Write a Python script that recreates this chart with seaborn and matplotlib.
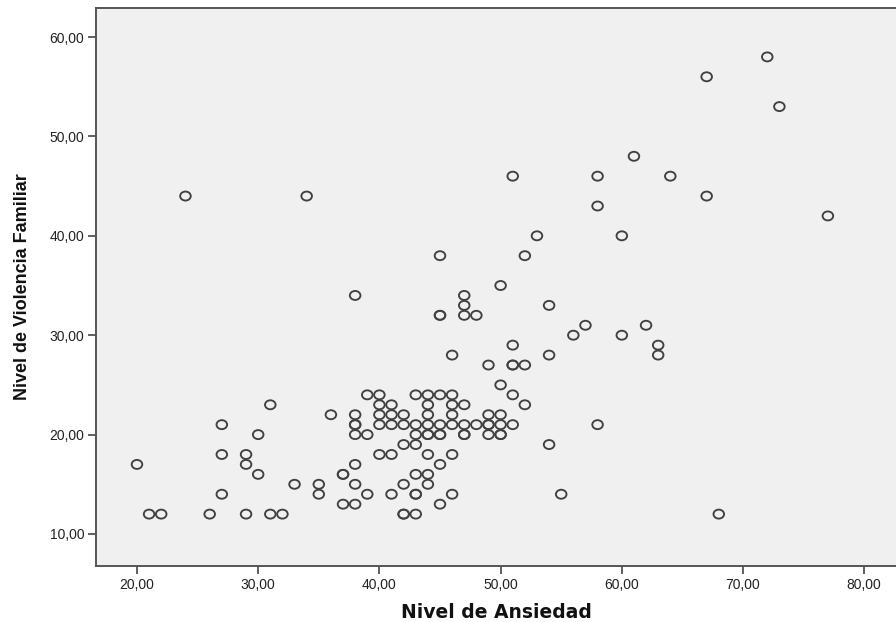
import matplotlib
matplotlib.use("Agg")
import matplotlib.pyplot as plt
import matplotlib.ticker as mticker
from matplotlib.path import Path
from matplotlib.transforms import Affine2D
import seaborn as sns
import pandas as pd

ansiedad = [20, 21, 22, 24, 26, 27, 27, 27, 29, 29, 29, 30, 30, 31, 31, 32, 33, 34, 35, 35,
            36, 37, 37, 37, 38, 38, 38, 38, 38, 38, 38, 38, 39, 39, 39, 40, 40, 40, 40, 40,
            41, 41, 41, 41, 41, 42, 42, 42, 42, 42, 42, 43, 43, 43, 43, 43, 43, 43, 43,
            44, 44, 44, 44, 44, 44, 44, 44, 44, 45, 45, 45, 45, 45, 45, 45, 45, 45,
            46, 46, 46, 46, 46, 46, 46, 47, 47, 47, 47, 47, 47, 47, 48, 48,
            49, 49, 49, 49, 49, 50, 50, 50, 50, 50, 50, 51, 51, 51, 51, 51, 51,
            52, 52, 52, 53, 54, 54, 54, 55, 56, 57, 58, 58, 58, 60, 60, 61, 62, 63, 63,
            64, 67, 67, 68, 72, 73, 77]
violencia = [17, 12, 12, 44, 12, 21, 18, 14, 18, 17, 12, 20, 16, 23, 12, 12, 15, 44, 15, 14,
             22, 16, 16, 13, 34, 22, 21, 21, 20, 17, 15, 13, 24, 20, 14, 24, 23, 22, 21, 18,
             23, 22, 21, 18, 14, 22, 21, 19, 15, 12, 12, 24, 21, 20, 19, 16, 14, 14, 12,
             24, 23, 22, 21, 20, 20, 18, 16, 15, 38, 32, 32, 24, 21, 20, 20, 17, 13,
             28, 24, 23, 22, 21, 18, 14, 34, 33, 32, 23, 21, 20, 20, 32, 21,
             27, 22, 21, 21, 20, 35, 25, 22, 21, 20, 20, 46, 29, 27, 27, 24, 21,
             38, 27, 23, 40, 33, 28, 19, 14, 30, 31, 46, 43, 21, 40, 30, 48, 31, 29, 28,
             46, 56, 44, 12, 58, 53, 42]

x_ticks = [20, 30, 40, 50, 60, 70, 80]
y_ticks = [10, 20, 30, 40, 50, 60]

df = pd.DataFrame({"Nivel de Ansiedad": ansiedad, "Nivel de Violencia Familiar": violencia})

plt.rcParams["font.family"] = ["Liberation Sans", "DejaVu Sans"]

# slightly flattened circle, like the SPSS marker
ellipse = Path.unit_circle().transformed(Affine2D().scale(1.0, 0.85))

W, H = 896, 622
fig = plt.figure(figsize=(W / 100, H / 100), dpi=100)
ax = fig.add_axes([96 / W, 1 - 566 / H, (896 - 96) / W, (566 - 8) / H])
ax.set_facecolor("#f0f0f0")

sns.scatterplot(data=df, x="Nivel de Ansiedad", y="Nivel de Violencia Familiar", ax=ax,
                marker=ellipse, s=58, facecolors="none", edgecolor="#404040", linewidth=1.35)

ax.set_xlim(16.62, 82.62)
ax.set_ylim(6.78, 62.92)
ax.set_xticks(x_ticks)
ax.set_yticks(y_ticks)
fmt = mticker.FuncFormatter(lambda v, p: f"{v:.2f}".replace(".", ","))
ax.xaxis.set_major_formatter(fmt)
ax.yaxis.set_major_formatter(fmt)

for side in ["left", "top", "bottom"]:
    ax.spines[side].set_color("#555555")
    ax.spines[side].set_linewidth(1.4)
ax.spines["right"].set_visible(False)

ax.tick_params(axis="both", direction="out", length=6, width=1.2, color="#444444",
               labelsize=10, labelcolor="#222222", pad=2.5)

ax.set_xlabel("Nivel de Ansiedad", fontsize=13.5, fontweight="bold", labelpad=8,
              family=["DejaVu Sans"], color="#111111")
ax.set_ylabel("Nivel de Violencia Familiar", fontsize=13, fontweight="bold", labelpad=13,
              color="#111111")

fig.savefig("out.png", dpi=100, facecolor="white")
